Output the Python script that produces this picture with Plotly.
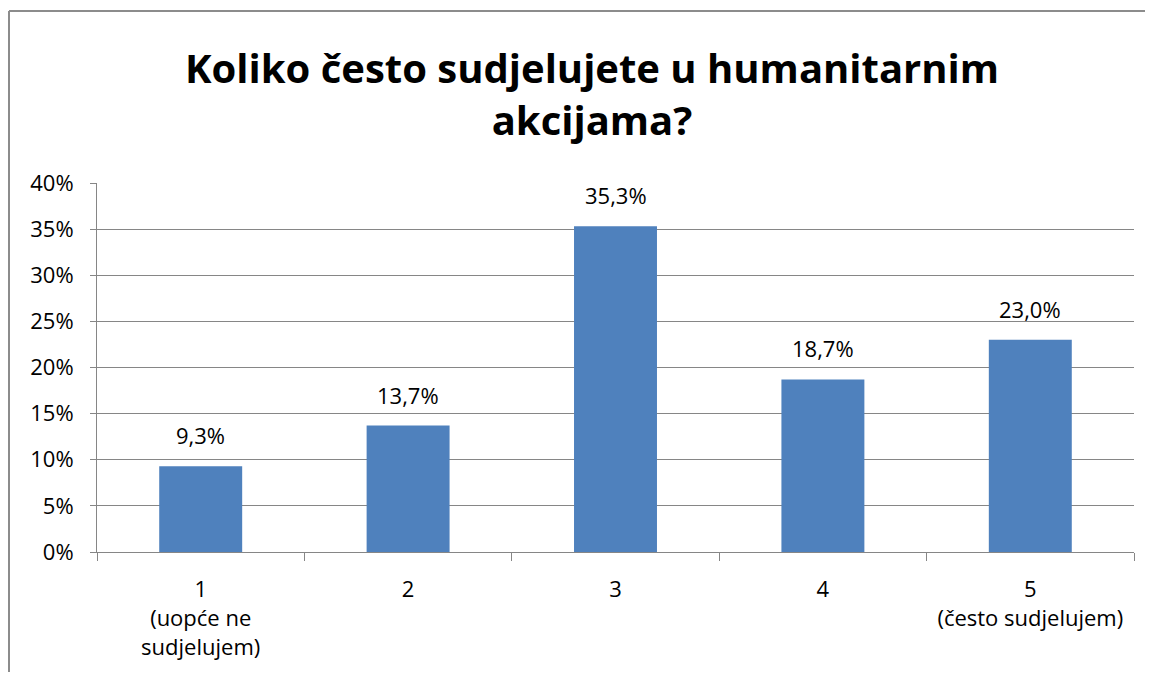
import plotly.graph_objects as go

categories = ["1", "2", "3", "4", "5"]
tick_labels = ["1<br>(uopće ne<br>sudjelujem)", "2", "3", "4", "5<br>(često sudjelujem)"]
shares = [9.3, 13.7, 35.3, 18.7, 23.0]

TITLE = "Koliko često sudjelujete u humanitarnim<br>akcijama?"
BAR = "#4F81BD"
AXIS = "#868686"
FONT = "'Open Sans', Lato, sans-serif"

# the page body adds an 8px margin all round, so work in page pixels minus 8
# and keep the figure small enough that no scrollbars appear
OFF = 8
W, H = 1153 - 2 * OFF, 680 - 2 * OFF
L, T = 97 - OFF, 183 - OFF
R, B = W - (1134 - OFF), H - (552 - OFF)
pw, ph = W - L - R, H - T - B


def px_x(x):
    return (x - OFF - L) / pw


def px_y(y):
    return (H - B - (y - OFF)) / ph


fig = go.Figure(go.Bar(
    x=categories, y=shares, marker=dict(color=BAR, line=dict(width=0)),
    hoverinfo="skip",
))

# data labels; category axes read numeric-looking x as an index
for i, v in enumerate(shares):
    fig.add_annotation(x=i, y=v, text=f"{v:.1f}%".replace(".", ","),
                       showarrow=False, yanchor="bottom", yshift=14,
                       font=dict(size=22, color="#000000", family=FONT))

fig.add_annotation(text=TITLE, xref="paper", yref="paper",
                   x=px_x(592), y=px_y(93), xanchor="center", yanchor="middle",
                   showarrow=False,
                   font=dict(size=40, color="#000000", family=FONT, weight="bold"))

# chart-area border: only the left and top edges fall inside the picture
border = dict(color="#8c8c8c", width=2)
fig.add_shape(type="line", xref="paper", yref="paper", x0=px_x(9), x1=px_x(9),
              y0=px_y(11), y1=px_y(700), line=border, layer="below")
fig.add_shape(type="line", xref="paper", yref="paper", x0=px_x(9), x1=px_x(1200),
              y0=px_y(11), y1=px_y(11), line=border, layer="below")

fig.update_layout(
    width=W, height=H, paper_bgcolor="white", plot_bgcolor="white",
    margin=dict(l=L, r=R, t=T, b=B, autoexpand=False), bargap=0.6,
    showlegend=False,
    font=dict(family=FONT, size=22, color="#000000"),
    xaxis=dict(type="category", tickmode="array", tickvals=categories,
               ticktext=tick_labels, tickson="boundaries", ticks="outside",
               ticklen=8, tickcolor=AXIS, showline=True, linecolor=AXIS,
               linewidth=1, showgrid=False, tickangle=0, automargin=False,
               ticklabelstandoff=18, range=[-0.5, 4.5], tickfont=dict(size=22)),
    yaxis=dict(range=[0, 40], dtick=5, ticksuffix="%", ticks="outside",
               ticklen=6, tickcolor=AXIS, showline=True, linecolor=AXIS,
               linewidth=1, showgrid=True, gridcolor=AXIS, gridwidth=1,
               zeroline=False, automargin=False, ticklabelstandoff=12,
               tickfont=dict(size=22)),
)

fig.write_html("out.html")
